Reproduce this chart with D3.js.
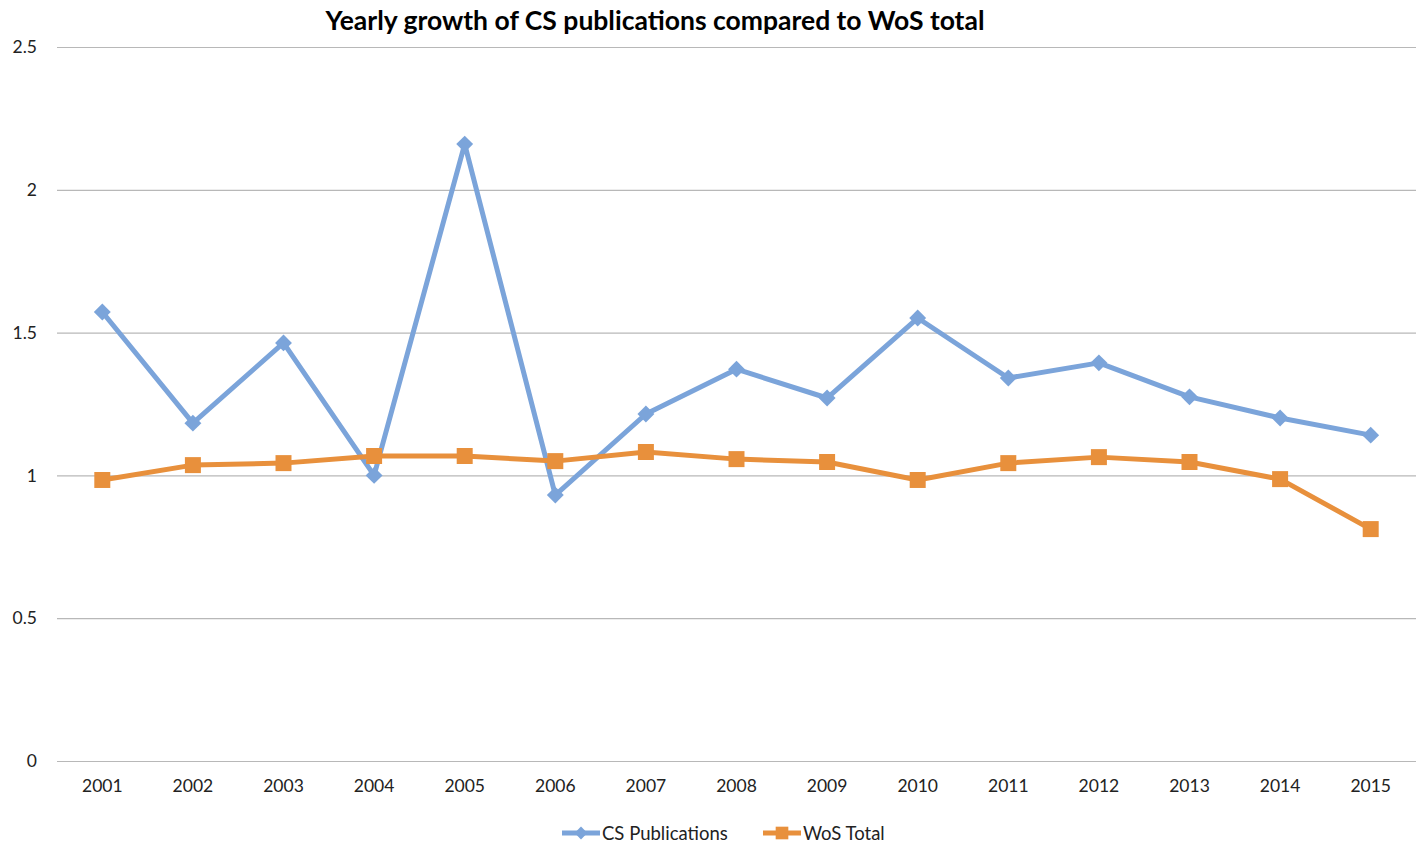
<!DOCTYPE html>
<html lang="en">
<head>
  <meta charset="UTF-8">
  <title>Yearly growth of CS publications</title>
  <script src="https://d3js.org/d3.v7.min.js"></script>
  <style>
    body { margin: 0; background: #fff; font-family: Lato, "Open Sans", sans-serif; }
    .tick text { font-size: 17.5px; fill: #222; font-family: Lato, "Open Sans", sans-serif; }
  </style>
</head>
<body>
  <svg id="chart" width="1421" height="843"></svg>
  <script>
    const years = ["2001","2002","2003","2004","2005","2006","2007","2008","2009","2010","2011","2012","2013","2014","2015"];
    const csPublications = [1.572, 1.183, 1.464, 1.0, 2.16, 0.931, 1.215, 1.372, 1.271, 1.551, 1.341, 1.394, 1.275, 1.201, 1.141];
    const wosTotal = [0.984, 1.036, 1.043, 1.068, 1.068, 1.05, 1.082, 1.057, 1.047, 0.984, 1.043, 1.064, 1.047, 0.987, 0.812];
    const yTicks = [0, 0.5, 1, 1.5, 2, 2.5];

    const blue = "#7BA4DA", orange = "#E8903C";
    const svg = d3.select("#chart");
    const plotLeft = 57, plotRight = 1416, plotTop = 47, plotBottom = 761;

    const x = d3.scaleBand().domain(years).range([plotLeft, plotRight]);
    const y = d3.scaleLinear().domain([0, 2.5]).range([plotBottom, plotTop]);

    // title
    svg.append("text")
      .attr("x", 655).attr("y", 30)
      .attr("text-anchor", "middle")
      .style("font-size", "26.5px").style("font-weight", "bold")
      .text("Yearly growth of CS publications compared to WoS total");

    // y axis with gridlines
    const yAxis = svg.append("g")
      .attr("transform", `translate(${plotLeft},0)`)
      .call(d3.axisLeft(y).tickValues(yTicks).tickSize(-(plotRight - plotLeft)).tickPadding(20).tickFormat(d3.format("")));
    yAxis.select(".domain").remove();
    yAxis.selectAll(".tick line").attr("stroke", "#b8b8b8").attr("stroke-width", 1.2);

    // x axis
    const xAxis = svg.append("g")
      .attr("transform", `translate(0,${plotBottom})`)
      .call(d3.axisBottom(x).tickSize(0).tickPadding(19));
    xAxis.select(".domain").remove();

    const line = d3.line().x((d, i) => x(years[i]) + x.bandwidth() / 2).y(d => y(d));

    function drawSeries(values, color, shape, size) {
      svg.append("path").datum(values)
        .attr("fill", "none").attr("stroke", color)
        .attr("stroke-width", 5).attr("stroke-linejoin", "round")
        .attr("d", line);
      svg.selectAll(null).data(values).enter().append("path")
        .attr("transform", (d, i) => `translate(${x(years[i]) + x.bandwidth() / 2},${y(d)})`)
        .attr("d", d3.symbol().type(shape).size(size))
        .attr("fill", color);
    }

    const diamond = {
      draw(ctx, size) {
        const r = Math.sqrt(size) / 1.4;
        ctx.moveTo(0, -r); ctx.lineTo(r, 0); ctx.lineTo(0, r); ctx.lineTo(-r, 0); ctx.closePath();
      }
    };

    drawSeries(csPublications, blue, diamond, 140);
    drawSeries(wosTotal, orange, d3.symbolSquare, 256);

    // legend
    const legend = [
      { name: "CS Publications", color: blue, shape: diamond, size: 80, x: 562 },
      { name: "WoS Total", color: orange, shape: d3.symbolSquare, size: 160, x: 763 }
    ];
    const lg = svg.selectAll("g.legend").data(legend).enter().append("g")
      .attr("class", "legend")
      .attr("transform", d => `translate(${d.x},833)`);
    lg.append("line").attr("x1", 0).attr("x2", 38)
      .attr("stroke", d => d.color).attr("stroke-width", 5);
    lg.append("path").attr("transform", "translate(19,0)")
      .attr("d", d => d3.symbol().type(d.shape).size(d.size)())
      .attr("fill", d => d.color);
    lg.append("text").attr("x", 40).attr("y", 7)
      .style("font-size", "18.5px").attr("fill", "#222")
      .text(d => d.name);
  </script>
</body>
</html>
